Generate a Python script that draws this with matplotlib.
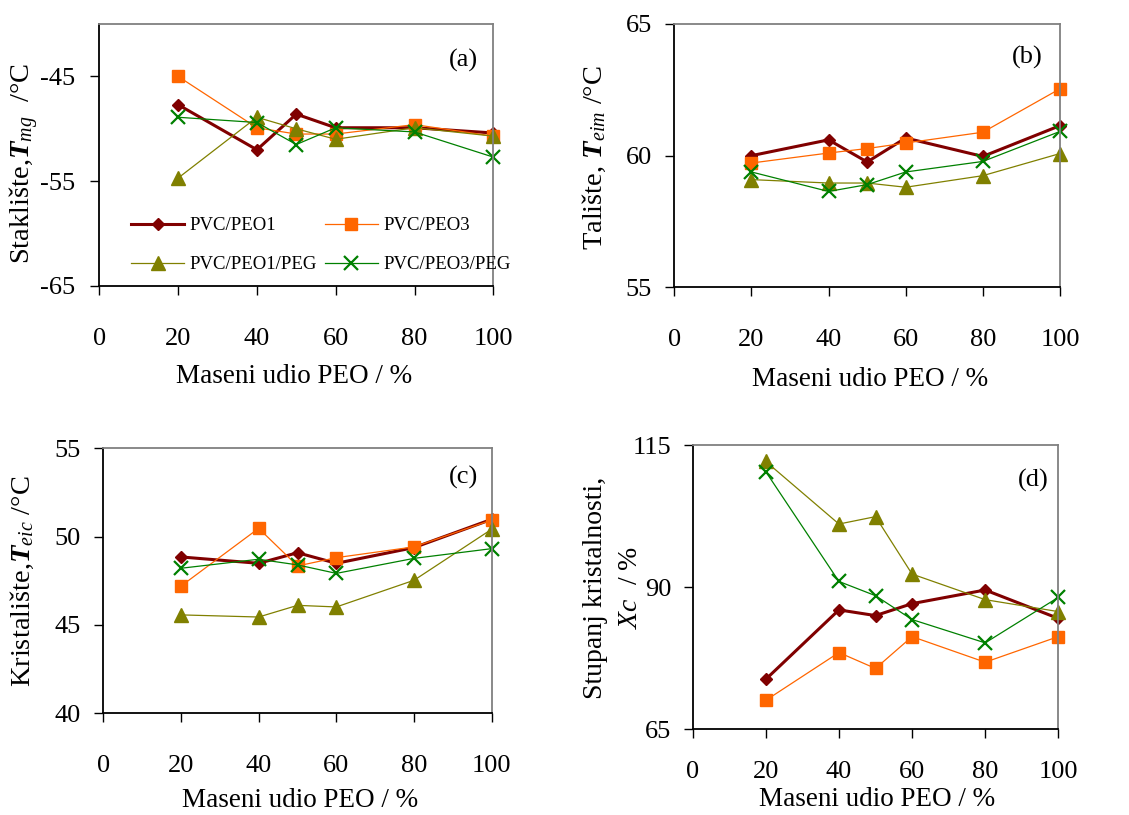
import matplotlib
matplotlib.use("Agg")
import matplotlib.pyplot as plt

plt.rcParams['font.family'] = ['Liberation Serif', 'DejaVu Serif']
plt.rcParams['mathtext.fontset'] = 'custom'
plt.rcParams['mathtext.rm'] = 'Liberation Serif'
plt.rcParams['mathtext.it'] = 'Liberation Serif:italic'
plt.rcParams['mathtext.bf'] = 'Liberation Serif:bold'
plt.rcParams['mathtext.bfit'] = 'Liberation Serif:italic:bold'
plt.rcParams['axes.unicode_minus'] = False

# ---------------- data ----------------
peo = [20, 40, 50, 60, 80, 100]
series_names = ["PVC/PEO1", "PVC/PEO3", "PVC/PEO1/PEG", "PVC/PEO3/PEG"]

# (a) glass transition Tmg
tg_peo1 = [-47.7, -52.0, -48.6, -49.9, -49.9, -50.4]
tg_peo3 = [-45.0, -49.9, -50.5, -50.5, -49.6, -50.7]
tg_peo1peg = [-54.7, -48.9, -50.0, -51.0, -49.9, -50.7]
tg_peo3peg = [-48.9, -49.4, -51.5, -49.9, -50.3, -52.7]

# (b) melting Teim
tm_peo1 = [60.0, 60.6, 59.76, 60.67, 59.97, 61.14]
tm_peo3 = [59.72, 60.1, 60.27, 60.48, 60.89, 62.54]
tm_peo1peg = [59.09, 58.96, 58.96, 58.80, 59.24, 60.08]
tm_peo3peg = [59.38, 58.64, 58.90, 59.38, 59.78, 60.92]

# (c) crystallization Teic
tc_peo1 = [48.85, 48.49, 49.09, 48.49, 49.38, 50.98]
tc_peo3 = [47.2, 50.47, 48.34, 48.81, 49.42, 50.94]
tc_peo1peg = [45.57, 45.45, 46.11, 46.02, 47.53, 50.42]
tc_peo3peg = [48.21, 48.72, 48.40, 47.92, 48.77, 49.32]

# (d) degree of crystallinity Xc
xc_peo1 = [73.8, 86.0, 85.0, 87.1, 89.5, 84.5]
xc_peo3 = [70.1, 78.5, 75.7, 81.3, 76.8, 81.3]
xc_peo1peg = [112.1, 101.1, 102.4, 92.3, 87.8, 85.7]
xc_peo3peg = [110.3, 91.0, 88.5, 84.3, 80.2, 88.2]

x_ticks = [0, 20, 40, 60, 80, 100]
panel_letters = ["(a)", "(b)", "(c)", "(d)"]
ylabels = ["Stakli\u0161te,$\\mathbfit{T}_{mg}$  /\u00b0C",
           "Tali\u0161te, $\\mathbfit{T}_{eim}$ /\u00b0C",
           "Kristali\u0161te,$\\mathbfit{T}_{eic}$ /\u00b0C"]
ylabel_d = ["Stupanj kristalnosti,", "$Xc$  / %"]
xlabel = "Maseni udio PEO / %"

# ---------------- styles ----------------
styles = [
    dict(color="#800000", lw=2.2, marker="D", ms=6.5, mfc="#800000", mec="#800000"),
    dict(color="#FF6600", lw=0.9, marker="s", ms=8.5, mfc="#FF6600", mec="#FF6600"),
    dict(color="#808000", lw=0.9, marker="^", ms=10, mfc="#808000", mec="#808000"),
    dict(color="#008000", lw=0.9, marker="x", ms=9.5, mew=1.6, mfc="#008000", mec="#008000"),
]

W, H = 1129, 815
fig = plt.figure(figsize=(W / 100, H / 100), dpi=100)


def rect(l, t, r, b):
    return [l / W, 1 - b / H, (r - l) / W, (b - t) / H]


def fx(x):
    return x / W


def fy(y):
    return 1 - y / H


panels = [
    dict(rect=rect(99.3, 24, 493.3, 286), ylim=(-65, -40), yticks=[-65, -55, -45],
         data=[tg_peo1, tg_peo3, tg_peo1peg, tg_peo3peg], xpad=23.5, ypad=11),
    dict(rect=rect(674.3, 24, 1060, 287.3), ylim=(55, 65), yticks=[55, 60, 65],
         data=[tm_peo1, tm_peo3, tm_peo1peg, tm_peo3peg], xpad=23.5, ypad=9.5),
    dict(rect=rect(103.3, 448.3, 491.7, 713.3), ylim=(40, 55), yticks=[40, 45, 50, 55],
         data=[tc_peo1, tc_peo3, tc_peo1peg, tc_peo3peg], xpad=23.5, ypad=10),
    dict(rect=rect(692.7, 445, 1058.3, 729.3), ylim=(65, 115), yticks=[65, 90, 115],
         data=[xc_peo1, xc_peo3, xc_peo1peg, xc_peo3peg], xpad=16.5, ypad=9),
]

axes = []
for i, p in enumerate(panels):
    ax = fig.add_axes(p["rect"])
    for name, ys, st in zip(series_names, p["data"], styles):
        ax.plot(peo, ys, label=name, clip_on=False, **st)
    ax.set_xlim(0, 100)
    ax.set_ylim(*p["ylim"])
    ax.set_xticks(x_ticks)
    ax.set_yticks(p["yticks"])
    ax.tick_params(axis="both", direction="out", length=6.5, width=1.0,
                   labelsize=19, colors="black")
    ax.tick_params(axis="x", pad=p["xpad"])
    ax.tick_params(axis="y", pad=p["ypad"])
    for s in ["left", "bottom"]:
        ax.spines[s].set_color("black")
        ax.spines[s].set_linewidth(1.3)
    for s in ["top", "right"]:
        ax.spines[s].set_color("#808080")
        ax.spines[s].set_linewidth(1.3)
    axes.append(ax)

# legend in panel (a): row-wise order (PEO1, PEO3 / PEO1-PEG, PEO3-PEG)
h, l = axes[0].get_legend_handles_labels()
order = [0, 2, 1, 3]
leg = axes[0].legend([h[k] for k in order], [l[k] for k in order], ncol=2,
                     loc="upper left", bbox_to_anchor=(0.080, 0.262),
                     frameon=False, fontsize=13.5, handlelength=2.85,
                     handletextpad=0.3, columnspacing=0.4, labelspacing=1.15,
                     borderpad=0, borderaxespad=0, numpoints=1)

# panel letters
letter_pos = [(463, 60), (1027, 57), (463, 477), (1033, 480)]
for (x, y), t in zip(letter_pos, panel_letters):
    fig.text(fx(x), fy(y), t, fontsize=19, ha="center", va="center")

# y labels
ylab_pos = [(24, 164), (594, 158), (22, 581)]
for (x, y), t in zip(ylab_pos, ylabels):
    fig.text(fx(x), fy(y), t, fontsize=20.5, rotation=90, ha="center", va="center")
fig.text(fx(595), fy(588), ylabel_d[0], fontsize=20, rotation=90,
         ha="center", va="center")
fig.text(fx(630), fy(588), ylabel_d[1], fontsize=20, rotation=90,
         ha="center", va="center")

# x labels
xlab_pos = [(294, 383), (870, 386), (300, 807), (877, 806)]
for x, y in xlab_pos:
    fig.text(fx(x), fy(y), xlabel, fontsize=19.5, ha="center", va="baseline")

fig.savefig("out.png", dpi=100, facecolor="white")
